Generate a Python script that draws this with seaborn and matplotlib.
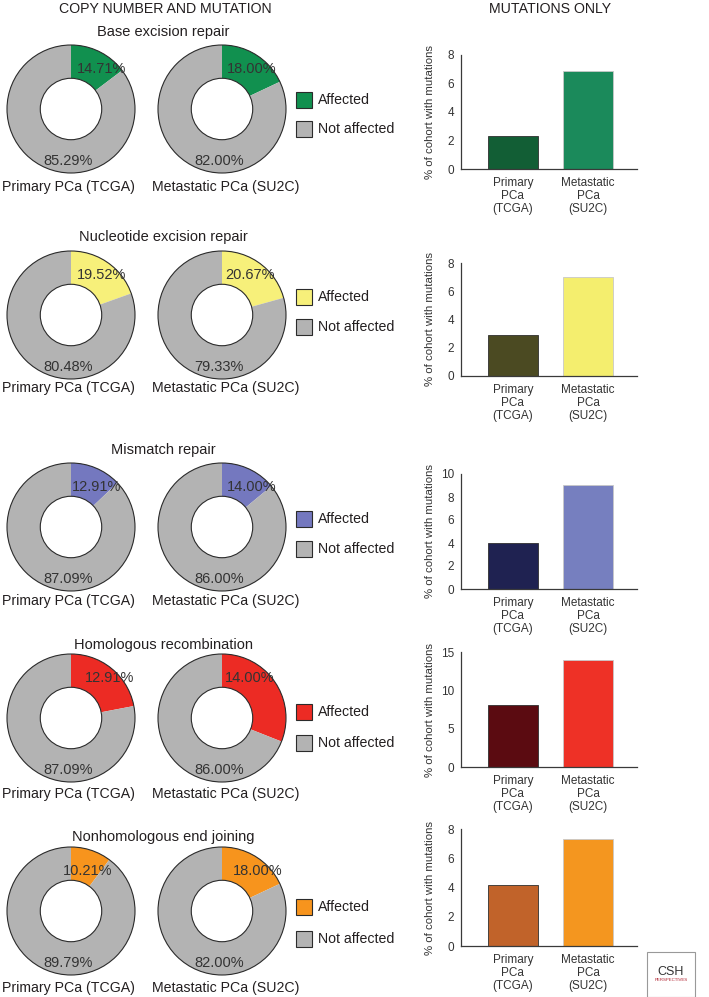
import matplotlib
matplotlib.use("Agg")
import matplotlib.pyplot as plt
from matplotlib.patches import Circle, Rectangle
import seaborn as sns

# ---------------- data ----------------
pathways = ["Base excision repair", "Nucleotide excision repair", "Mismatch repair",
            "Homologous recombination", "Nonhomologous end joining"]
cohorts = ["Primary PCa (TCGA)", "Metastatic PCa (SU2C)"]
bar_cats = ["Primary\nPCa\n(TCGA)", "Metastatic\nPCa\n(SU2C)"]

# wedge sizes as drawn (% affected)
affected_primary = [14.71, 19.52, 12.91, 22.0, 10.21]
affected_metastatic = [18.00, 20.67, 14.00, 31.0, 18.00]
# percentage labels as printed
primary_labels = ["14.71%", "19.52%", "12.91%", "12.91%", "10.21%"]
primary_rest_labels = ["85.29%", "80.48%", "87.09%", "87.09%", "89.79%"]
met_labels = ["18.00%", "20.67%", "14.00%", "14.00%", "18.00%"]
met_rest_labels = ["82.00%", "79.33%", "86.00%", "86.00%", "82.00%"]

# % of cohort with mutations
mut_primary = [2.3, 2.9, 4.0, 8.1, 4.2]
mut_metastatic = [6.9, 7.0, 9.0, 14.0, 7.3]
y_max = [8, 8, 10, 15, 8]
y_step = [2, 2, 2, 5, 2]

donut_colors = ["#11904f", "#f7f07a", "#7478bf", "#ec2b24", "#f7941d"]
bar_dark = ["#125e35", "#4b4a22", "#1f2251", "#5b0b11", "#c1632a"]
bar_light = ["#1b8a5b", "#f4ee6e", "#767fbf", "#ee3126", "#f4961f"]
grey = "#b3b3b3"
txt = "#231f20"

# ---------------- layout (pixels) ----------------
W, H = 709, 997
title_y = [32, 237, 450, 645, 837]
donut_cy = [109, 315, 527, 718, 911]
cohort_y = [187, 388, 601, 794, 988]
leg_aff_y = [100, 297, 519, 712, 907]
leg_not_y = [129, 327, 549, 743, 939]
aff_dx_p = [31, 31, 26, 39, 17]
aff_dx_m = [30, 28, 30, 28, 36]
bar_top = [55, 263, 474, 652, 829]
bar_bot = [169, 376, 589, 767, 946]
R = 64

sns.set_theme(style="white")
plt.rcParams["font.family"] = ["Liberation Sans", "DejaVu Sans"]
plt.rcParams["text.color"] = txt

fig = plt.figure(figsize=(W / 100, H / 100), dpi=100)


def px_axes(x0, y0, w, h):
    return fig.add_axes([x0 / W, 1 - (y0 + h) / H, w / W, h / H])


def ftext(x, y, s, **kw):
    fig.text(x / W, 1 - y / H, s, ha="center", va="center", **kw)


ftext(165, 9, "COPY NUMBER AND MUTATION", fontsize=10.2)
ftext(550, 9, "MUTATIONS ONLY", fontsize=10.2)

for i in range(5):
    ftext(163, title_y[i], pathways[i], fontsize=10.5)

    donuts = [(71, affected_primary[i], primary_labels[i], primary_rest_labels[i], aff_dx_p[i]),
              (222, affected_metastatic[i], met_labels[i], met_rest_labels[i], aff_dx_m[i])]
    for cx, a, lab, rest, dx in donuts:
        ax = px_axes(cx - R, donut_cy[i] - R, 2 * R, 2 * R)
        ax.pie([a, 100 - a], colors=[donut_colors[i], grey], startangle=90,
               counterclock=False, radius=1, wedgeprops=dict(width=0.52, linewidth=0))
        ax.add_patch(Circle((0, 0), 1, fill=False, ec="#2b2b2b", lw=0.8, clip_on=False))
        ax.add_patch(Circle((0, 0), 0.48, fill=False, ec="#2b2b2b", lw=0.8, clip_on=False))
        ax.set_xlim(-1, 1)
        ax.set_ylim(-1, 1)
        ax.axis("off")
        ax.text(dx / R, 40 / R, lab, ha="center", va="center", fontsize=10.5, color="#333333")
        ax.text(-3 / R, -52 / R, rest, ha="center", va="center", fontsize=10.5, color="#333333")

    ftext(68, cohort_y[i], cohorts[0], fontsize=10.2)
    ftext(226, cohort_y[i], cohorts[1], fontsize=10.2)

    # legend
    for yy, col, lab in [(leg_aff_y[i], donut_colors[i], "Affected"),
                         (leg_not_y[i], grey, "Not affected")]:
        fig.add_artist(Rectangle((296 / W, 1 - (yy + 8) / H), 16 / W, 16 / H,
                                 transform=fig.transFigure, fc=col, ec="#2b2b2b", lw=0.8))
        fig.text(318 / W, 1 - yy / H, lab, ha="left", va="center", fontsize=10.2)

    # bar chart
    ax = px_axes(461, bar_top[i], 176, bar_bot[i] - bar_top[i])
    sns.barplot(x=bar_cats, y=[mut_primary[i], mut_metastatic[i]], hue=bar_cats,
                palette=[bar_dark[i], bar_light[i]], legend=False, width=0.667,
                saturation=1, ax=ax)
    for p, ec in zip(ax.patches, ["#2f2f2f", "#c8c8c8"]):
        p.set_edgecolor(ec)
        p.set_linewidth(0.6)
    ax.set_xlim(-0.69, 1.65)
    ax.set_ylim(0, y_max[i])
    ax.set_yticks(range(0, y_max[i] + 1, y_step[i]))
    sns.despine(ax=ax)
    for s in ["left", "bottom"]:
        ax.spines[s].set_color("#3a3a3a")
        ax.spines[s].set_linewidth(0.9)
    ax.tick_params(axis="both", length=3, width=0.7, color="#3a3a3a",
                   labelsize=8.5, pad=2, labelcolor="#333333")
    ax.tick_params(axis="x", pad=3)
    for t in ax.get_xticklabels():
        t.set_linespacing(1.1)
    ax.set_xlabel("")
    ax.set_ylabel("% of cohort with mutations", fontsize=8.2, color="#333333")
    ax.yaxis.set_label_coords(-(461 - 435) / 176, 0.5)

# journal logo box
fig.add_artist(Rectangle((647 / W, 1 - 997 / H), 48 / W, 45 / H, transform=fig.transFigure,
                         fc="white", ec="#999999", lw=0.8))
ftext(671, 972, "CSH", fontsize=9, color="#333333")
ftext(671, 980, "PERSPECTIVES", fontsize=3.2, color="#b0202e")

fig.savefig("out.png", dpi=100)
